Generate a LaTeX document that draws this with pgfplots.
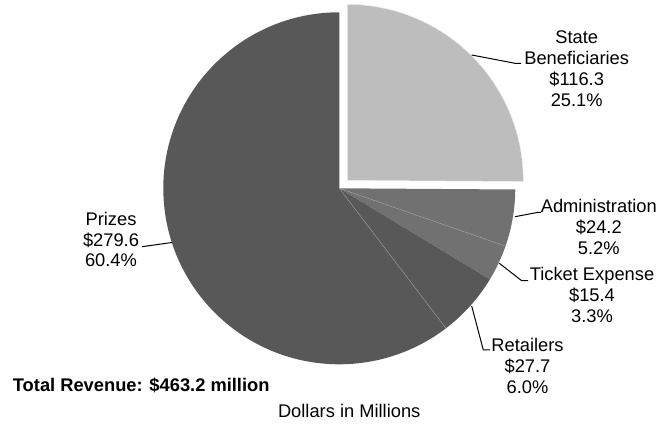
\documentclass[border=0pt]{standalone}
\usepackage{pgfplots}
\usepackage{pgfplotstable}
\pgfplotsset{compat=1.18}
\usepackage{fontspec}
\setmainfont{Liberation Sans}
\definecolor{cState}{RGB}{189,189,189}
\definecolor{cMid}{RGB}{113,113,113}
\definecolor{cDark}{RGB}{88,88,88}
\definecolor{cSep}{RGB}{160,160,160}
\pgfplotstableread{
value pct
116.3 25.1
24.2 5.2
15.4 3.3
27.7 6.0
279.6 60.4
}\piedata
\begin{document}%
\pgfplotstablegetelem{0}{value}\of\piedata\let\vA\pgfplotsretval%
\pgfplotstablegetelem{1}{value}\of\piedata\let\vB\pgfplotsretval%
\pgfplotstablegetelem{2}{value}\of\piedata\let\vC\pgfplotsretval%
\pgfplotstablegetelem{3}{value}\of\piedata\let\vD\pgfplotsretval%
\pgfplotstablegetelem{4}{value}\of\piedata\let\vE\pgfplotsretval%
\pgfmathsetmacro\tot{\vA+\vB+\vC+\vD+\vE}%
\pgfmathsetmacro\aA{90}%
\pgfmathsetmacro\aB{\aA-(\vA/\tot)*360}%
\pgfmathsetmacro\aC{\aB-(\vB/\tot)*360}%
\pgfmathsetmacro\aD{\aC-(\vC/\tot)*360}%
\pgfmathsetmacro\aE{\aD-(\vD/\tot)*360}%
\pgfmathsetmacro\aF{\aE-(\vE/\tot)*360}%
\pgfmathsetmacro\mA{(\aA+\aB)/2}%
\fontsize{18.3bp}{20.7bp}\selectfont%
\begin{tikzpicture}[lbl/.style={anchor=base,inner sep=0pt,font=\fontsize{18.3bp}{20.7bp}\selectfont}]
\useasboundingbox (0,0) rectangle (660bp,425bp);
\begin{axis}[width=660bp,height=425bp,scale only axis,
  xmin=0,xmax=660,ymin=0,ymax=425,hide axis,clip=false,
  at={(0,0)},anchor=south west]
% wedges
\filldraw[fill=cState,draw=white!85!gray,line width=0.5bp]
  ([shift={(\mA:11.3bp)}]axis cs:339.3,236.7) -- ++(\aB:176bp)
  arc[start angle=\aB,end angle=\aA,radius=176bp] -- cycle;
\fill[cMid]
  (axis cs:339.3,236.7) -- ++(\aC:176bp)
  arc[start angle=\aC,end angle=\aB,radius=176bp] -- cycle;
\fill[cMid]
  (axis cs:339.3,236.7) -- ++(\aD:176bp)
  arc[start angle=\aD,end angle=\aC,radius=176bp] -- cycle;
\fill[cDark]
  (axis cs:339.3,236.7) -- ++(\aE:176bp)
  arc[start angle=\aE,end angle=\aD,radius=176bp] -- cycle;
\fill[cDark]
  (axis cs:339.3,236.7) -- ++(\aF:176bp)
  arc[start angle=\aF,end angle=\aE,radius=176bp] -- cycle;
\draw[cSep,line width=0.35bp] (axis cs:339.3,236.7) -- ++(\aC:176bp);
\draw[cSep,line width=0.35bp] (axis cs:339.3,236.7) -- ++(\aE:176bp);
% leader lines
\addplot[black,line width=1bp,no marks] coordinates {(471.7,370) (515,361.7) (521,361.7)};
\addplot[black,line width=1bp,no marks] coordinates {(515,208.3) (538.3,212.7) (541,212.7)};
\addplot[black,line width=1bp,no marks] coordinates {(499.3,161.7) (521.7,144.3) (528,144.3)};
\addplot[black,line width=1bp,no marks] coordinates {(471.7,119) (483.3,75) (490,75)};
\addplot[black,line width=1bp,no marks] coordinates {(172,182.5) (142,178.3)};
% labels
\node[lbl] at (axis cs:576.7,381) {State};
\node[lbl] at (axis cs:576.7,360.3) {Beneficiaries};
\node[lbl] at (axis cs:576.7,339.6) {\$116.3};
\node[lbl] at (axis cs:576.7,318.9) {25.1\%};
\node[lbl] at (axis cs:598.8,212) {Administration};
\node[lbl] at (axis cs:598.8,191.3) {\$24.2};
\node[lbl] at (axis cs:598.8,170.6) {5.2\%};
\node[lbl] at (axis cs:592,144.3) {Ticket Expense};
\node[lbl] at (axis cs:592,123.6) {\$15.4};
\node[lbl] at (axis cs:592,102.9) {3.3\%};
\node[lbl] at (axis cs:527.5,73.3) {Retailers};
\node[lbl] at (axis cs:527.5,52.6) {\$27.7};
\node[lbl] at (axis cs:527.5,31.9) {6.0\%};
\node[lbl] at (axis cs:111,199.5) {Prizes};
\node[lbl] at (axis cs:111,178.8) {\$279.6};
\node[lbl] at (axis cs:111,158.1) {60.4\%};
\node[lbl,anchor=base west,font=\fontsize{18.3bp}{20.7bp}\selectfont\bfseries] at (axis cs:12.7,33.5) {Total Revenue: \$463.2 million};
\node[lbl] at (axis cs:349.2,7.5) {Dollars in Millions};
\end{axis}
\end{tikzpicture}%
\end{document}
